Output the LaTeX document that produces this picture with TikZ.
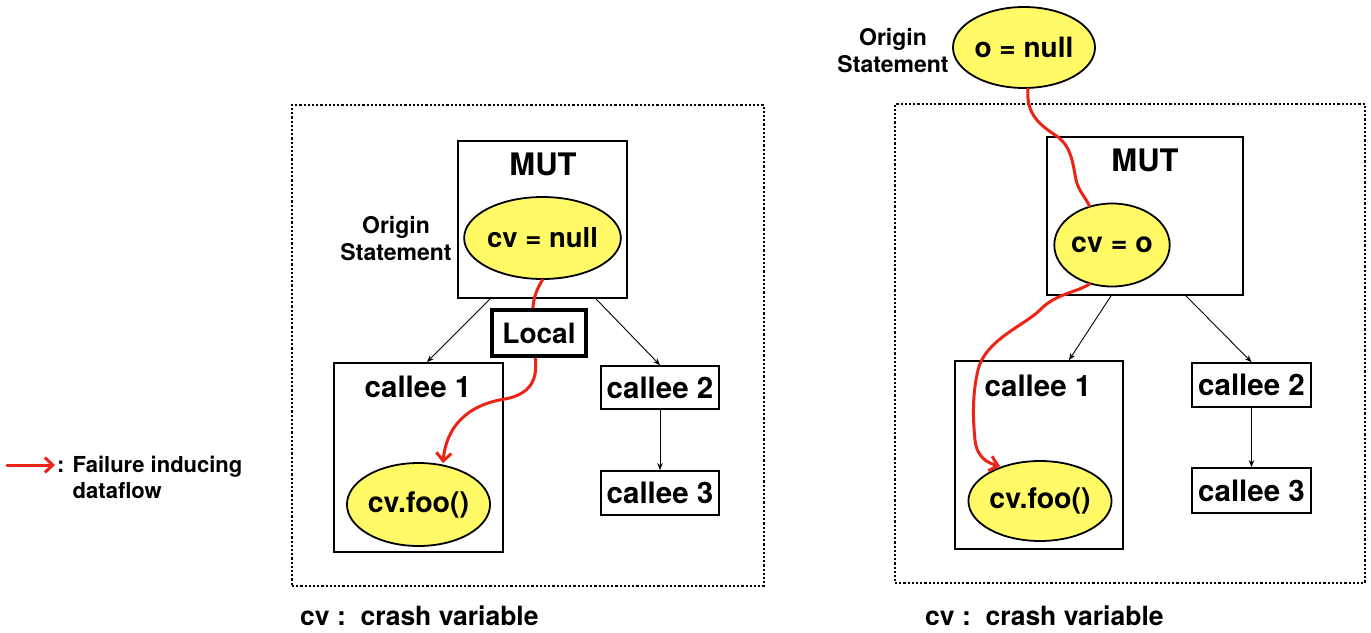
\documentclass[tikz,border=0pt]{standalone}
\usepackage{fontspec}
\setmainfont{TeX Gyre Heros}
\usetikzlibrary{shapes.geometric,arrows.meta,calc}
\definecolor{flowred}{RGB}{236,36,22}
\definecolor{stmtyellow}{RGB}{255,250,102}
\begin{document}
\begin{tikzpicture}[x=1pt,y=-1pt,
  box/.style={draw, line width=1.8pt, inner sep=0pt, font=\fontsize{29.5}{34}\selectfont\bfseries},
  stmt/.style={ellipse, draw, line width=1.8pt, fill=stmtyellow, inner sep=0pt, font=\fontsize{27.5}{32}\selectfont\bfseries},
  lbl/.style={inner sep=0pt, font=\fontsize{29.5}{34}\selectfont\bfseries},
  mutlbl/.style={inner sep=0pt, font=\fontsize{31}{36}\selectfont\bfseries},
  origin/.style={inner sep=0pt, align=center, font=\fontsize{23}{27.5}\selectfont\bfseries},
  note/.style={inner sep=0pt, anchor=base west, font=\fontsize{26.5}{30}\selectfont\bfseries},
  call/.style={-{Stealth[length=7pt,width=5.5pt]}, line width=0.9pt},
  flow/.style={flowred, line width=3pt, line cap=round},
  flowtip/.style={-{Straight Barb[length=8pt,width=15pt]}},
  frame/.style={draw, line width=2.2pt, dotted, inner sep=0pt}]
\useasboundingbox (0,0) rectangle (1371,632);

% ---------------- left diagram ----------------
\node[frame, minimum width=472, minimum height=481] (frameL) at (528,345.5) {};
\node[box, minimum width=169, minimum height=157] (mutL) at (542.5,219.5) {};
\node[mutlbl] (mutLtxt) at (543,164) {MUT};
\node[stmt, minimum width=141, minimum height=82] (cvnull) at (542.5,238) {cv = null};
\node[origin] (originL) at (396,238.5) {Origin\\Statement};
\node[box, minimum width=169, minimum height=189] (c1L) at (418.5,457.5) {};
\node[lbl] (c1Ltxt) at (418,387) {callee 1};
\node[stmt, minimum width=141, minimum height=83, font=\fontsize{28.5}{32}\selectfont\bfseries] (fooL) at (418.5,504.5) {cv.foo()};
\node[box, minimum width=118, minimum height=43] (c2L) at (660,387.5) {callee 2};
\node[box, minimum width=118, minimum height=44] (c3L) at (660,493) {callee 3};
\draw[call] ([xshift=-52.5]mutL.south) -- ([xshift=8.5]c1L.north);
\draw[call] ([xshift=53.5]mutL.south) -- (c2L.north);
\draw[call] (c2L) -- (c3L);
\coordinate (fooLtip) at ([xshift=24.5,yshift=-1]fooL.north);
\draw[flow, flowtip] (cvnull.south) .. controls (535,292) and (532,302) .. (533,318)
  -- (535,356) .. controls (537,372) and (537,393) .. (505,399)
  .. controls (466,405) and (446,428) .. (fooLtip);
\node[box, line width=3.5pt, fill=white, minimum width=94, minimum height=46, font=\fontsize{28}{34}\selectfont\bfseries] (local) at (539,333) {Local};
\node[note] (noteL) at (300,625) {cv :\ \ crash variable};

% ---------------- right diagram ----------------
\node[frame, minimum width=470, minimum height=479] (frameR) at (1130,343.5) {};
\node[stmt, minimum width=142, minimum height=81, font=\fontsize{28}{32}\selectfont\bfseries] (onull) at (1024,47.5) {o = null};
\node[origin] (originR) at (893,50.5) {Origin\\Statement};
\node[box, minimum width=196, minimum height=158] (mutR) at (1145,216) {};
\node[mutlbl] (mutRtxt) at (1145,160) {MUT};
\node[stmt, minimum width=110, minimum height=83, font=\fontsize{28.5}{32}\selectfont\bfseries] (cvo) at (1112,245) {cv = o};
\node[box, minimum width=168, minimum height=188] (c1R) at (1039,455) {};
\node[lbl] (c1Rtxt) at (1038,386) {callee 1};
\node[stmt, minimum width=141, minimum height=80, font=\fontsize{28.5}{32}\selectfont\bfseries] (fooR) at (1040,501) {cv.foo()};
\node[box, minimum width=119, minimum height=44] (c2R) at (1251.5,385) {callee 2};
\node[box, minimum width=119, minimum height=45] (c3R) at (1251.5,490.5) {callee 3};
\draw[call] ([xshift=-34]mutR.south) -- ([xshift=30]c1R.north);
\draw[call] ([xshift=41]mutR.south) -- (c2R.north);
\draw[call] (c2R) -- (c3R);
\coordinate (onullout) at ([xshift=4]onull.south);
\coordinate (fooRtip) at ([xshift=-40,yshift=-6]fooR.north);
\draw[flow] (onullout) .. controls (1026,115) and (1040,125) .. (1058,137)
  .. controls (1072,148) and (1073,165) .. (1076,180)
  .. controls (1079,192) and (1086,198) .. (cvo.120);
\draw[flow, flowtip] (cvo.-120) .. controls (1075,293) and (1055,294) .. (1040,310)
  .. controls (1025,325) and (985,340) .. (978,370)
  .. controls (972,395) and (973,420) .. (975,440)
  .. controls (977,458) and (988,463) .. (fooRtip);
\node[note] (noteR) at (925,625) {cv :\ \ crash variable};

% ---------------- legend ----------------
\coordinate (lgstart) at (7,465);
\coordinate (lgend) at (55,465);
\draw[flow, flowtip] (lgstart) -- (lgend);
\node[anchor=north west, align=left, inner sep=0pt, font=\fontsize{22}{26}\selectfont\bfseries] (legend) at (57,456) {: Failure inducing\\\phantom{: }dataflow};
\end{tikzpicture}
\end{document}
